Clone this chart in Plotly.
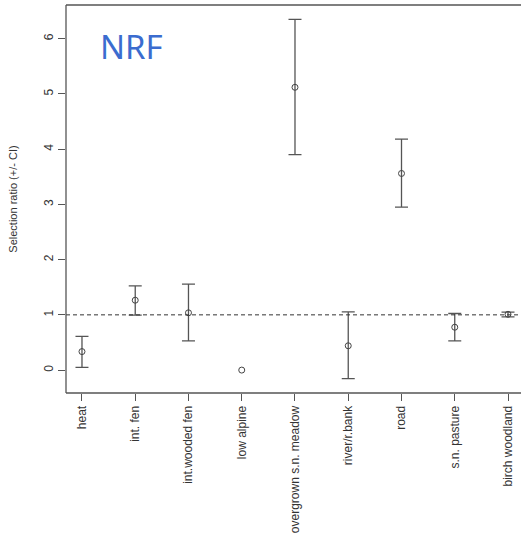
import plotly.graph_objects as go

categories = ["heat", "int. fen", "int.wooded fen", "low alpine", "overgrown s.n. meadow",
              "river/r.bank", "road", "s.n. pasture", "birch woodland"]
ratio = [0.335, 1.265, 1.037, 0.0, 5.12, 0.44, 3.56, 0.776, 1.01]
ci_low = [0.05, 0.995, 0.53, None, 3.90, -0.155, 2.95, 0.53, 0.964]
ci_high = [0.61, 1.526, 1.556, None, 6.35, 1.055, 4.18, 1.024, 1.048]
y_ticks = [0, 1, 2, 3, 4, 5, 6]

xpos = list(range(1, len(categories) + 1))
has_ci = [i for i in range(len(categories)) if ci_low[i] is not None]
ex = [xpos[i] for i in has_ci]
ey = [ratio[i] for i in has_ci]
err_plus = [ci_high[i] - ratio[i] for i in has_ci]
err_minus = [ratio[i] - ci_low[i] for i in has_ci]

axis_col = "#555555"
font = dict(family="Liberation Sans, Arial, sans-serif", size=12, color="#333333")

fig = go.Figure()
fig.add_trace(go.Scatter(
    x=ex, y=ey, mode="markers", marker=dict(size=1, color="rgba(0,0,0,0)"),
    error_y=dict(type="data", symmetric=False, array=err_plus, arrayminus=err_minus,
                 color="#555555", thickness=1.3, width=6.5),
    showlegend=False, hoverinfo="skip",
))
fig.add_trace(go.Scatter(
    x=xpos, y=ratio, mode="markers",
    marker=dict(symbol="circle-open", size=6, color="#444444", line=dict(width=1)),
    showlegend=False,
))

fig.add_shape(type="line", xref="paper", yref="y", x0=0, x1=1, y0=1, y1=1,
              line=dict(color="#333333", width=1, dash="4px,3px"))
# box (left, top, bottom); right side falls outside the window
for x0, x1, y0, y1 in [(0, 0, 0, 1), (0, 1, 1, 1), (0, 1, 0, 0)]:
    fig.add_shape(type="line", xref="paper", yref="paper", x0=x0, x1=x1, y0=y0, y1=y1,
                  line=dict(color=axis_col, width=1.3))

fig.add_annotation(text="NRF", xref="x", yref="y", x=1.30, y=5.85, xanchor="left",
                   yanchor="middle", showarrow=False,
                   font=dict(family="Noto Sans, sans-serif", size=33, color="#3b6ccf"))

fig.update_layout(
    width=521, height=534,
    margin=dict(l=66, r=0, t=5, b=141, autoexpand=False),
    plot_bgcolor="white", paper_bgcolor="white",
    font=font,
)
fig.update_xaxes(
    range=[0.70, 9.244], tickmode="array", tickvals=xpos, ticktext=categories,
    tickangle=-90, ticks="outside", ticklen=7, tickcolor=axis_col, tickwidth=1,
    showgrid=False, zeroline=False, showline=False, tickfont=font,
    automargin=False, ticklabeloverflow="allow",
)
fig.update_yaxes(
    range=[-0.415, 6.61], tickmode="array", tickvals=y_ticks,
    tickangle=-90, ticks="outside", ticklen=7, tickcolor=axis_col, tickwidth=1,
    showgrid=False, zeroline=False, showline=False, tickfont=font,
    automargin=False,
    title=dict(text="Selection ratio (+/- CI)", font=dict(size=11, color="#333333"), standoff=22),
)

fig.write_html(
    "out.html",
    config={"displayModeBar": False},
    post_script="document.body.style.margin='0';document.body.style.overflow='hidden';",
)
